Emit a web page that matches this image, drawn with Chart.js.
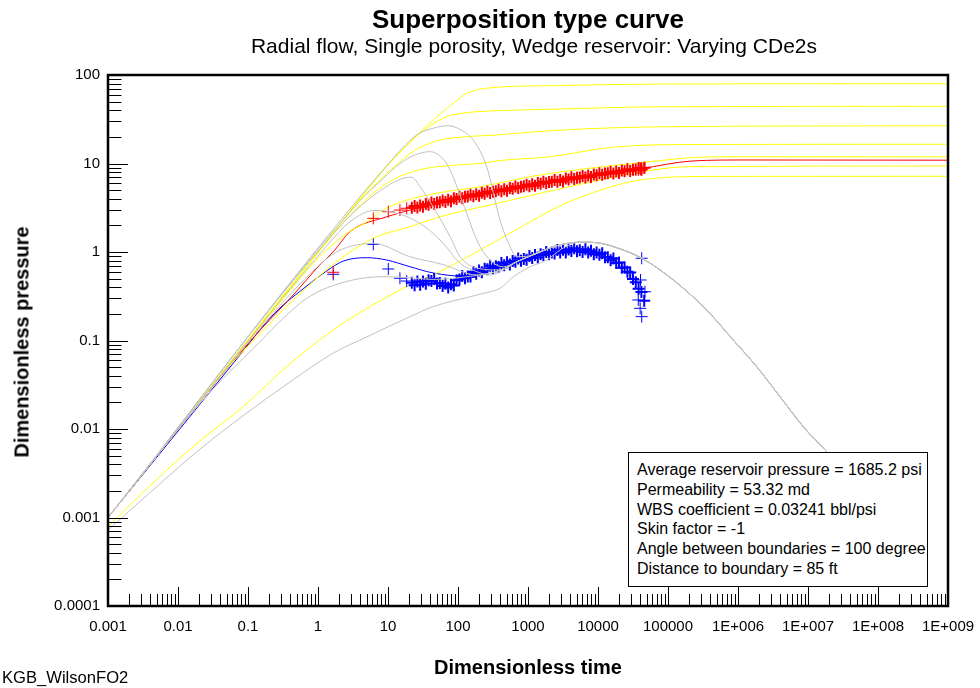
<!DOCTYPE html>
<html>
<head>
<meta charset="utf-8">
<script src="https://cdn.jsdelivr.net/npm/chart.js@4.4.1/dist/chart.umd.min.js"></script>
<style>
  body { margin: 0; background: #fff; font-family: "Liberation Sans", Arial, sans-serif; }
  #wrap { position: relative; width: 980px; height: 688px; }
  .lbl { position: absolute; white-space: nowrap; color: #000; }
  #title { left: 528px; top: 19px; transform: translate(-50%, -50%); font-size: 26px; font-weight: bold; }
  #subtitle { left: 534px; top: 46px; transform: translate(-50%, -50%); font-size: 21px; }
  #ytitle { left: 22px; top: 342px; transform: translate(-50%, -50%) rotate(-90deg); font-size: 20px; font-weight: bold; }
  #xtitle { left: 528px; top: 667px; transform: translate(-50%, -50%); font-size: 20px; font-weight: bold; }
  #foot { left: 2px; top: 678px; transform: translateY(-50%); font-size: 16.6px; }
  #info { position: absolute; left: 628px; top: 452px; width: 300px; height: 135px; background: #fff;
          border: 1px solid #000; padding: 7px 0 0 8px; box-sizing: border-box; font-size: 16px; line-height: 19.8px; white-space: nowrap; }
</style>
</head>
<body>
<div id="wrap">
  <canvas id="c" width="980" height="688"></canvas>
  <div class="lbl" id="title">Superposition type curve</div>
  <div class="lbl" id="subtitle">Radial flow, Single porosity, Wedge reservoir: Varying CDe2s</div>
  <div class="lbl" id="ytitle">Dimensionless pressure</div>
  <div class="lbl" id="xtitle">Dimensionless time</div>
  <div class="lbl" id="foot">KGB_WilsonFO2</div>
  <div id="info"></div>
</div>
<script>
// axis ticks
const xTickVals = [1e-3, 1e-2, 0.1, 1, 10, 100, 1e3, 1e4, 1e5, 1e6, 1e7, 1e8, 1e9];
const xTickLabels = ['0.001', '0.01', '0.1', '1', '10', '100', '1000', '10000', '100000', '1E+006', '1E+007', '1E+008', '1E+009'];
const yTickVals = [1e-4, 1e-3, 1e-2, 0.1, 1, 10, 100];
const yTickLabels = ['0.0001', '0.001', '0.01', '0.1', '1', '10', '100'];
const minorSteps = [2, 3, 4, 5, 6, 7, 8, 9];

const infoLines = [
  'Average reservoir pressure = 1685.2 psi',
  'Permeability = 53.32 md',
  'WBS coefficient = 0.03241 bbl/psi',
  'Skin factor = -1',
  'Angle between boundaries = 100 degree',
  'Distance to boundary = 85 ft'
];

// type curves - pressure (yellow)
const y1T = [0.001, 1, 10, 20, 44, 86, 133, 357, 2063, 84900, 1e9];
const y1P = [0.001, 1, 9.8, 17, 31, 48, 62, 72.6, 75.7, 79.1, 79.8];
const y2T = [0.001, 1, 8.5, 15, 31.6, 69, 133, 357, 2063, 84900, 1e9];
const y2P = [0.001, 1, 8.3, 13.5, 23.3, 33.8, 37.5, 39.5, 41, 43.8, 44.3];
const y3T = [0.001, 1, 4, 8.5, 14.8, 25.7, 55, 133, 357, 2063, 84900, 1e9];
const y3P = [0.001, 1, 3.85, 7.0, 10.5, 14.5, 18.4, 20.1, 21, 23.5, 26, 26.7];
const y4T = [0.001, 1, 3, 7, 15, 35.7, 96, 206, 398, 2000, 16500, 2.8e5, 1e9];
const y4P = [0.001, 0.98, 2.7, 5.0, 7.2, 8.83, 9.6, 10.0, 10.8, 11.9, 15.3, 16.4, 16.5];
const y5T = [0.001, 0.3, 1, 2.5, 5.5, 8.6, 19, 55, 206, 1484, 39800, 4.4e5, 1e9];
const y5P = [0.001, 0.28, 0.85, 1.6, 2.3, 3.0, 3.87, 4.68, 5.47, 7.42, 10.2, 11.9, 11.9];
const y6T = [0.001, 0.05, 0.149, 0.6, 1.85, 6.17, 20.6, 55, 286, 1484, 61700, 2e5, 1e9];
const y6P = [0.001, 0.048, 0.12, 0.36, 0.777, 1.43, 1.93, 2.5, 3.4, 4.6, 8.45, 9.2, 9.37];
const y7T = [0.001, 0.004, 0.02, 0.086, 0.4, 1.85, 3.7, 20, 55, 206, 500, 4436, 61700, 5e5, 1e9];
const y7P = [0.00078, 0.0023, 0.0072, 0.018, 0.055, 0.14, 0.2, 0.42, 0.6, 1.05, 1.56, 3.87, 6.8, 7.15, 7.17];

// type curves - derivative (gray), all join the same late-time tail
const g1T = [0.001, 10, 25.7, 44, 72, 110, 165, 257, 398, 553, 690, 1000];
const g1P = [0.001, 9.8, 21, 25, 26.7, 24, 18.4, 9.2, 2.3, 1.15, 0.885, 0.9];
const g2T = [0.001, 4, 8.6, 14.8, 25, 39.8, 60, 77, 133, 185, 286, 444, 700];
const g2P = [0.001, 3.8, 6.8, 10, 12.6, 13.6, 11.5, 8.45, 2.74, 1.37, 0.81, 0.68, 0.78];
const g3T = [0.001, 2, 5, 8.6, 14, 21.8, 28.7, 44, 77, 107, 165, 398, 700];
const g3P = [0.001, 1.9, 3.8, 5.2, 6.5, 7.0, 5.47, 3.25, 1.49, 0.885, 0.68, 0.626, 0.78];
const g4T = [0.001, 0.3, 1, 2.87, 6.5, 12, 28.7, 61.7, 107, 185, 286, 500, 700];
const g4P = [0.001, 0.29, 0.9, 2.2, 2.95, 2.8, 2.11, 1.25, 0.745, 0.6, 0.55, 0.66, 0.78];
const g5T = [0.001, 0.2, 1.19, 2.06, 6.17, 20.6, 61.7, 185, 400, 700];
const g5P = [0.001, 0.18, 0.78, 1.05, 1.25, 0.885, 0.72, 0.55, 0.62, 0.78];
const g6T = [0.001, 0.02, 0.148, 0.319, 0.69, 2.06, 8.6, 20.6, 44, 133, 400, 700];
const g6P = [0.001, 0.019, 0.097, 0.178, 0.3, 0.443, 0.526, 0.512, 0.49, 0.526, 0.62, 0.78];
const g7T = [0.001, 0.0055, 0.02, 0.086, 0.44, 1.65, 5, 20.6, 44, 230, 400, 620, 1070, 1850, 3000];
const g7P = [0.00072, 0.0024, 0.0058, 0.0142, 0.036, 0.072, 0.11, 0.186, 0.241, 0.341, 0.389, 0.526, 0.68, 0.81, 1.08];
const tailT = [1484, 2500, 5530, 9000, 16550, 42100, 1.19e5, 3.57e5, 8.57e5, 1.85e6, 3.98e6, 8.57e6, 1.75e7, 2.5e7];
const tailP = [1.0, 1.17, 1.29, 1.28, 1.15, 0.85, 0.483, 0.221, 0.101, 0.0506, 0.0232, 0.0106, 0.0058, 0.0042];

// matched model
const modelPT = [0.001, 0.111, 0.465, 0.958, 1.73, 2.87, 9.58, 20.6, 55, 165, 496, 1484, 4436, 13300, 39800, 2.3e5, 1.33e6, 1e9];
const modelP = [0.001, 0.101, 0.341, 0.654, 1.05, 1.7, 2.5, 2.98, 3.67, 4.41, 5.11, 5.97, 6.8, 7.75, 8.71, 10.7, 10.96, 10.9];
const modelDT = [0.001, 0.0647, 0.24, 0.72, 1.39, 2.3, 4.96, 9.58, 20.6, 44, 133, 400, 1484, 4400];
const modelD = [0.001, 0.058, 0.203, 0.424, 0.626, 0.79, 0.862, 0.812, 0.682, 0.58, 0.53, 0.68, 0.92, 1.04];

// measured data (pressure and derivative)
const dataT = [1.65, 6.17, 10.1, 14.8, 18.5,
  21.9, 24.0, 26.3, 28.8, 31.6, 34.7, 38.0, 41.7, 45.7, 50.1, 55.0, 60.3, 66.1, 72.4, 79.4, 87.1, 95.5,
  105, 115, 126, 138, 151, 166, 182, 200, 219, 240, 263, 288, 316, 347, 380, 417, 457, 501, 550, 603,
  661, 724, 794, 871, 955, 1047, 1148, 1259, 1380, 1514, 1660, 1820, 1995, 2188, 2399, 2630, 2884,
  3162, 3467, 3802, 4169, 4571, 5012, 5495, 6026, 6607, 7244, 7943, 8710, 9550, 10470, 11480, 12590,
  13800, 15140, 16600, 18200, 19950, 21880, 23990, 26300, 28840, 31620, 34670, 38020, 41690, 45710,
  42100, 40500, 46900, 37600, 40000, 42100];
const dataP = [0.59, 2.4, 2.85, 2.98, 3.12,
  3.16, 3.31, 3.18, 3.35, 3.24, 3.49, 3.42, 3.63, 3.49, 3.63, 3.66, 3.83, 3.68, 3.89, 3.75, 4.04, 3.96,
  4.21, 4.04, 4.20, 4.25, 4.44, 4.26, 4.50, 4.33, 4.66, 4.56, 4.83, 4.63, 4.81, 4.85, 5.06, 4.85, 5.12,
  4.93, 5.30, 5.19, 5.49, 5.27, 5.47, 5.52, 5.76, 5.52, 5.82, 5.60, 6.03, 5.90, 6.24, 5.97, 6.19, 6.23,
  6.49, 6.21, 6.53, 6.28, 6.75, 6.59, 6.97, 6.67, 6.91, 6.96, 7.24, 6.93, 7.30, 7.02, 7.53, 7.36, 7.78,
  7.45, 7.72, 7.76, 8.07, 7.72, 8.11, 7.79, 8.35, 8.15, 8.60, 8.22, 8.51, 8.55, 8.90, 8.50, 8.94,
  8.62, 8.8, 8.95, 8.45, 8.7, 8.85];
const dataDP = [0.56, 1.22, 0.643, 0.505, 0.47,
  0.45, 0.422, 0.463, 0.427, 0.464, 0.437, 0.479, 0.470, 0.494, 0.441, 0.445, 0.413, 0.437, 0.398, 0.433,
  0.418, 0.479, 0.49, 0.536, 0.504, 0.53, 0.528, 0.593, 0.567, 0.618, 0.589, 0.648, 0.637, 0.698, 0.66,
  0.69, 0.677, 0.749, 0.708, 0.767, 0.722, 0.791, 0.774, 0.845, 0.795, 0.835, 0.816, 0.90, 0.854, 0.922,
  0.865, 0.944, 0.921, 1.003, 0.941, 0.985, 0.96, 1.05, 0.989, 1.061, 0.988, 1.066, 1.029, 1.103, 1.019,
  1.045, 0.998, 1.071, 0.989, 1.035, 0.941, 0.989, 0.931, 0.971, 0.873, 0.87, 0.806, 0.842, 0.752, 0.762,
  0.665, 0.668, 0.598, 0.588, 0.495, 0.455, 0.384, 0.354, 0.281,
  0.849, 0.483, 0.356, 0.287, 0.231, 0.186];
const denseFrom = 5;
const denseTo = 89;

function pts(t, p) {
  return t.map((v, i) => ({ x: v, y: p[i] }));
}

function curve(t, p, color, order) {
  return {
    data: pts(t, p), borderColor: color, borderWidth: 1, pointRadius: 0,
    showLine: true, fill: false, cubicInterpolationMode: 'monotone', order: order
  };
}

function crosses(t, p, color) {
  return {
    data: pts(t, p), borderColor: color, backgroundColor: color,
    borderWidth: c => (c.dataIndex >= denseFrom && c.dataIndex < denseTo) ? 2 : 1,
    pointStyle: 'cross', pointRadius: 6, showLine: false, order: 1
  };
}

const yellow = '#ffff00';
const gray = '#c0c0c0';

const datasets = [
  curve(g1T.concat(tailT), g1P.concat(tailP), gray, 0),
  curve(g2T.concat(tailT), g2P.concat(tailP), gray, 0),
  curve(g3T.concat(tailT), g3P.concat(tailP), gray, 0),
  curve(g4T.concat(tailT), g4P.concat(tailP), gray, 0),
  curve(g5T.concat(tailT), g5P.concat(tailP), gray, 0),
  curve(g6T.concat(tailT), g6P.concat(tailP), gray, 0),
  curve(g7T.concat(tailT.slice(2)), g7P.concat(tailP.slice(2)), gray, 0),
  curve(y1T, y1P, yellow, 2),
  curve(y2T, y2P, yellow, 2),
  curve(y3T, y3P, yellow, 2),
  curve(y4T, y4P, yellow, 2),
  curve(y5T, y5P, yellow, 2),
  curve(y6T, y6P, yellow, 2),
  curve(y7T, y7P, yellow, 2),
  crosses(dataT, dataP, '#ff0000'),
  crosses(dataT, dataDP, '#0000ff'),
  curve(modelPT, modelP, '#ff0000', 3),
  curve(modelDT, modelD, '#0000ff', 3)
];

// inward tick marks and plot frame
const frameTicks = {
  id: 'frameTicks',
  afterDraw(chart) {
    const ctx = chart.ctx;
    const a = chart.chartArea;
    const xs = chart.scales.x;
    const ys = chart.scales.y;
    ctx.save();
    ctx.strokeStyle = '#000';
    ctx.lineWidth = 1;
    ctx.beginPath();
    xTickVals.forEach((d, i) => {
      const px = Math.round(xs.getPixelForValue(d)) + 0.5;
      ctx.moveTo(px, a.bottom); ctx.lineTo(px, a.bottom - 19);
      if (i < xTickVals.length - 1) {
        minorSteps.forEach(k => {
          const q = Math.round(xs.getPixelForValue(d * k)) + 0.5;
          ctx.moveTo(q, a.bottom); ctx.lineTo(q, a.bottom - 12);
        });
      }
    });
    yTickVals.forEach((d, i) => {
      const py = Math.round(ys.getPixelForValue(d)) + 0.5;
      ctx.moveTo(a.left, py); ctx.lineTo(a.left + 20, py);
      if (i < yTickVals.length - 1) {
        minorSteps.forEach(k => {
          const q = Math.round(ys.getPixelForValue(d * k)) + 0.5;
          ctx.moveTo(a.left, q); ctx.lineTo(a.left + 13.5, q);
        });
      }
    });
    ctx.stroke();
    ctx.lineWidth = 2.5;
    ctx.strokeRect(a.left, a.top, a.right - a.left, a.bottom - a.top);
    ctx.restore();
  }
};

const tickFont = { family: '"Liberation Sans", Arial, sans-serif', size: 15 };

new Chart(document.getElementById('c'), {
  type: 'scatter',
  data: { datasets: datasets },
  options: {
    responsive: false,
    animation: false,
    events: [],
    layout: { padding: { left: 0, right: 32, top: 75, bottom: 0 } },
    plugins: { legend: { display: false }, tooltip: { enabled: false }, title: { display: false } },
    scales: {
      x: {
        type: 'logarithmic', min: 1e-3, max: 1e9,
        grid: { display: false, drawTicks: false },
        border: { display: false },
        afterBuildTicks: s => { s.ticks = xTickVals.map(v => ({ value: v })); },
        afterFit: s => { s.height = 82; s.paddingLeft = 0; s.paddingRight = 0; },
        ticks: { font: tickFont, color: '#000', padding: 12, autoSkip: false, maxRotation: 0,
                 callback: (v, i) => xTickLabels[i] }
      },
      y: {
        type: 'logarithmic', min: 1e-4, max: 100,
        grid: { display: false, drawTicks: false },
        border: { display: false },
        afterBuildTicks: s => { s.ticks = yTickVals.map(v => ({ value: v })); },
        afterFit: s => { s.width = 108; s.paddingTop = 0; s.paddingBottom = 0; },
        ticks: { font: tickFont, color: '#000', padding: 8, autoSkip: false,
                 callback: (v, i) => yTickLabels[i] }
      }
    }
  },
  plugins: [frameTicks]
});

document.getElementById('info').innerHTML = infoLines.map(s => '<div>' + s + '</div>').join('');
</script>
</body>
</html>
